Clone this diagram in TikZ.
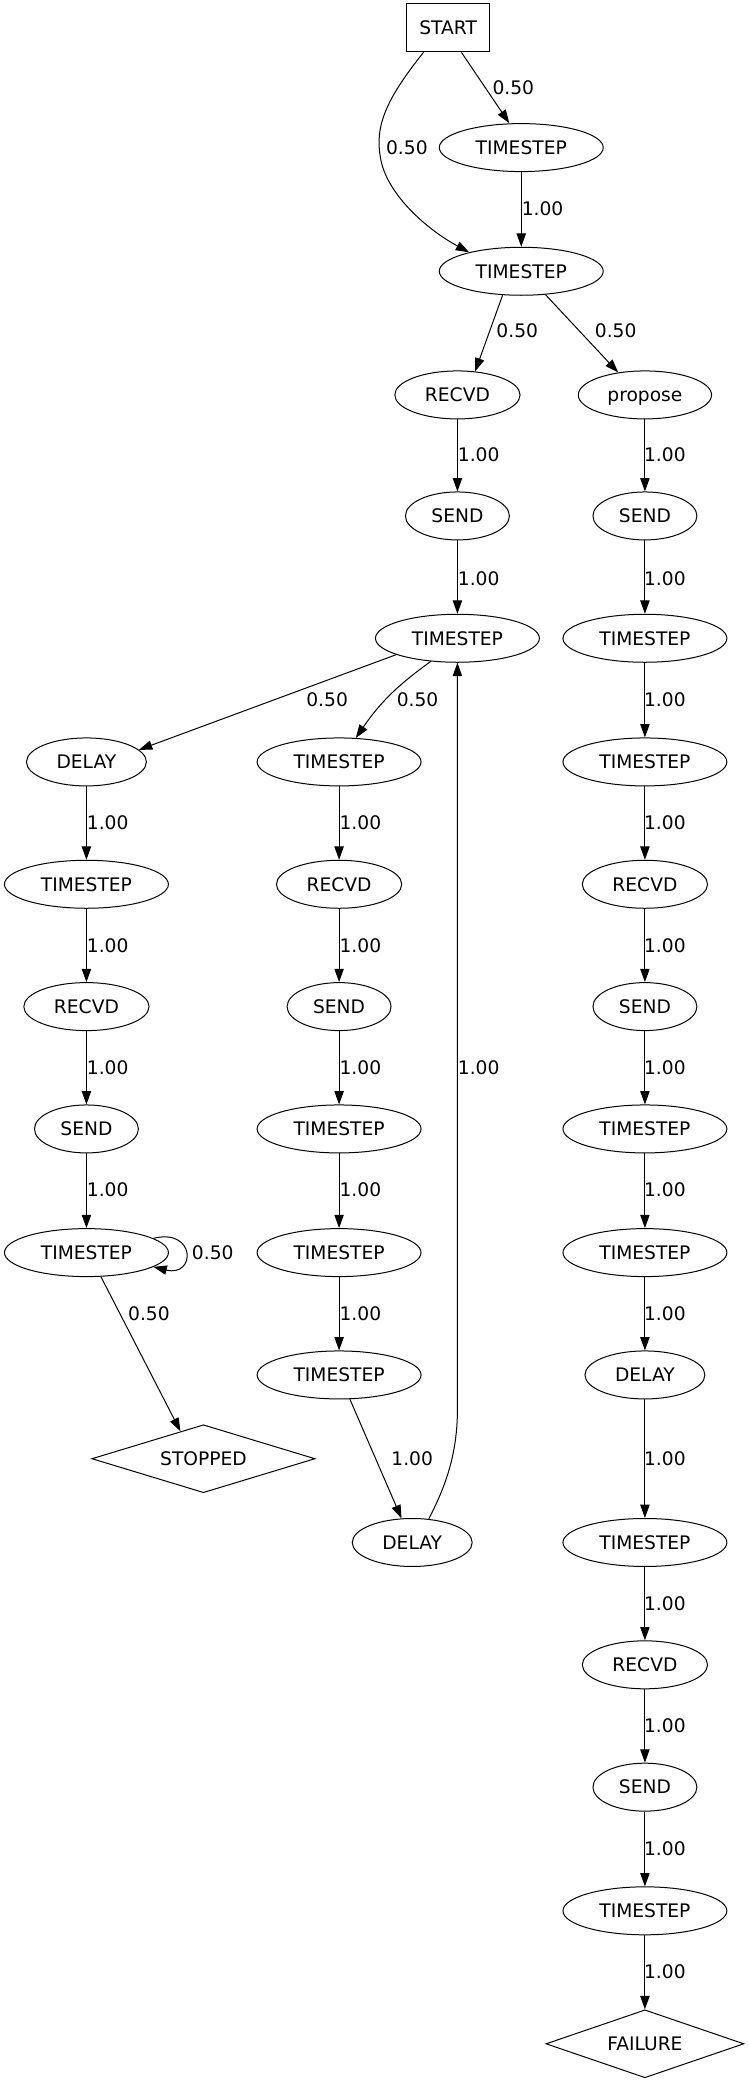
\documentclass[tikz,border=0pt]{standalone}
\usepackage{fontspec}
\setmainfont{DejaVu Sans}
\usetikzlibrary{shapes.geometric,arrows.meta}
\begin{document}
\begin{tikzpicture}[x=0.9977pt,y=-0.9977pt,
  every node/.style={font=\fontsize{14}{16}\selectfont, text height=10.2pt, text depth=0pt, inner sep=0pt},
  base/.style={draw, line width=0.75pt, minimum height=36pt},
  box/.style={base, rectangle, minimum width=62pt},
  ts/.style={base, ellipse, minimum width=123pt},
  rv/.style={base, ellipse, minimum width=94pt},
  sd/.style={base, ellipse, minimum width=78pt},
  dl/.style={base, ellipse, minimum width=90pt},
  pr/.style={base, ellipse, minimum width=100pt},
  term/.style={draw, line width=0.75pt, diamond, aspect=3, minimum height=51pt},
  edge/.style={line width=0.75pt, -{Triangle[length=10pt,width=7pt]}}]
\useasboundingbox (0,0) rectangle (563,1568);

% ---- states ----
\node[box] (start) at (337,21) {START};
\node[ts] (a1) at (392,111) {TIMESTEP};
\node[ts] (a2) at (392,204) {TIMESTEP};
\node[rv] (b1) at (344,297) {RECVD};
\node[sd] (b2) at (344,388) {SEND};
\node[ts] (b3) at (344,480) {TIMESTEP};

\node[pr] (p1) at (485,297) {propose};
\node[sd] (p2) at (485,388) {SEND};
\node[ts] (p3) at (485,480) {TIMESTEP};
\node[ts] (p4) at (485,573) {TIMESTEP};
\node[rv] (p5) at (485,665) {RECVD};
\node[sd] (p6) at (485,757) {SEND};
\node[ts] (p7) at (485,849) {TIMESTEP};
\node[ts] (p8) at (485,942) {TIMESTEP};
\node[dl] (p9) at (485,1034) {DELAY};
\node[ts] (p10) at (485,1160) {TIMESTEP};
\node[rv] (p11) at (485,1252) {RECVD};
\node[sd] (p12) at (485,1344) {SEND};
\node[ts] (p13) at (485,1437) {TIMESTEP};
\node[term, minimum width=148.5pt] (fail) at (485,1537) {FAILURE};

\node[dl] (l1) at (65,573) {DELAY};
\node[ts] (l2) at (65,665) {TIMESTEP};
\node[rv] (l3) at (65,757) {RECVD};
\node[sd] (l4) at (65,849) {SEND};
\node[ts] (l5) at (65,942) {TIMESTEP};
\node[term, minimum width=167.5pt] (stop) at (153,1097) {STOPPED};

\node[ts] (m1) at (255,573) {TIMESTEP};
\node[rv] (m2) at (255,665) {RECVD};
\node[sd] (m3) at (255,757) {SEND};
\node[ts] (m4) at (255,849) {TIMESTEP};
\node[ts] (m5) at (255,942) {TIMESTEP};
\node[ts] (m6) at (255,1034) {TIMESTEP};
\node[dl] (m7) at (310,1160) {DELAY};

% ---- transitions ----
\draw[edge] ([xshift=10pt]start.south) -- ([xshift=-9pt]a1.north);
\draw[edge] ([xshift=-18.5pt]start.south) .. controls (290,75) and (282,95) .. (286,118)
  .. controls (290,145) and (320,172) .. (a2.160);
\draw[edge] (a1) -- (a2);
\draw[edge] (a2.232) -- (b1.53);
\draw[edge] (a2.-44) -- (p1.140);
\draw[edge] (b1) -- (b2);
\draw[edge] (b2) -- (b3);
\draw[edge] (b3.195) -- (l1.13);
\draw[edge] (b3.221) to[bend right=10] (m1.55);

\draw[edge] (p1) -- (p2);
\draw[edge] (p2) -- (p3);
\draw[edge] (p3) -- (p4);
\draw[edge] (p4) -- (p5);
\draw[edge] (p5) -- (p6);
\draw[edge] (p6) -- (p7);
\draw[edge] (p7) -- (p8);
\draw[edge] (p8) -- (p9);
\draw[edge] (p9) -- (p10);
\draw[edge] (p10) -- (p11);
\draw[edge] (p11) -- (p12);
\draw[edge] (p12) -- (p13);
\draw[edge] (p13) -- (fail);

\draw[edge] (l1) -- (l2);
\draw[edge] (l2) -- (l3);
\draw[edge] (l3) -- (l4);
\draw[edge] (l4) -- (l5);
\draw[edge] (l5.12) .. controls +(32,-8) and +(32,8) .. (l5.-12);
\draw[edge] (l5.-59) -- (stop.130);

\draw[edge] (m1) -- (m2);
\draw[edge] (m2) -- (m3);
\draw[edge] (m3) -- (m4);
\draw[edge] (m4) -- (m5);
\draw[edge] (m5) -- (m6);
\draw[edge] (m6.-66) -- (m7.114);
\draw[edge] (m7.55) .. controls (334,1120) and (344,1095) .. (344,1060) -- (b3.south);

% ---- probabilities ----
\node (q1) at (386,66) {0.50};
\node (q2) at (306,111) {0.50};
\node (q3) at (408,157) {1.00};
\node (q4) at (389,249) {0.50};
\node (q5) at (463,249) {0.50};
\node (q6) at (360,342) {1.00};
\node (q7) at (360,435) {1.00};
\node (q8) at (246,526) {0.50};
\node (q9) at (314,526) {0.50};
\node (q10) at (360,803) {1.00};

\node (r1) at (500,342) {1.00};
\node (r2) at (500,435) {1.00};
\node (r3) at (500,526) {1.00};
\node (r4) at (500,619) {1.00};
\node (r5) at (500,711) {1.00};
\node (r6) at (500,803) {1.00};
\node (r7) at (500,895) {1.00};
\node (r8) at (500,988) {1.00};
\node (r9) at (500,1097) {1.00};
\node (r10) at (500,1206) {1.00};
\node (r11) at (500,1298) {1.00};
\node (r12) at (500,1390) {1.00};
\node (r13) at (500,1483) {1.00};

\node (s1) at (81,619) {1.00};
\node (s2) at (81,711) {1.00};
\node (s3) at (81,803) {1.00};
\node (s4) at (81,895) {1.00};
\node (s5) at (160,942) {0.50};
\node (s6) at (112,988) {0.50};

\node (t1) at (271,619) {1.00};
\node (t2) at (271,711) {1.00};
\node (t3) at (271,803) {1.00};
\node (t4) at (271,895) {1.00};
\node (t5) at (271,988) {1.00};
\node (t6) at (310,1097) {1.00};
\end{tikzpicture}
\end{document}
